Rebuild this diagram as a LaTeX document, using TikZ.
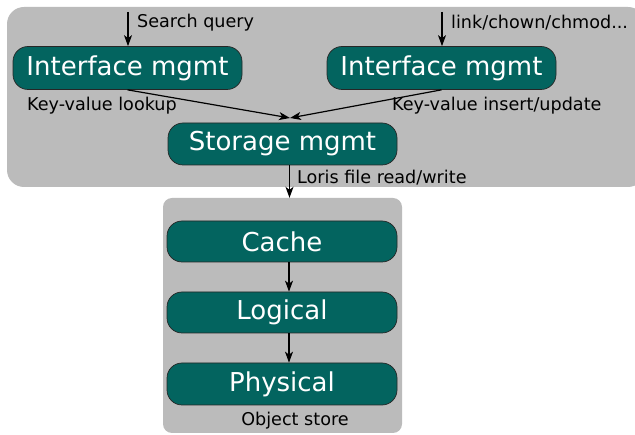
\documentclass[tikz,border=0pt]{standalone}
\usepackage{fontspec}
\setmainfont{DejaVu Sans}
\usetikzlibrary{arrows.meta}
\definecolor{regiongray}{HTML}{BBBBBB}
\definecolor{boxteal}{HTML}{03645F}
\tikzset{
  region/.style={fill=regiongray, draw=none},
  layerbox/.style={draw=black!85, line width=0.7pt, fill=boxteal, rounded corners=15pt,
    text=white, font=\fontsize{26}{30}\selectfont, inner sep=0pt},
  lbl/.style={font=\fontsize{17.6}{20}\selectfont, inner sep=0pt, text=black},
  arr/.style={-{Stealth[length=11pt,width=8pt,inset=3pt]}, line width=1.2pt},
}
\begin{document}
\begin{tikzpicture}[x=1pt,y=-1pt]
\useasboundingbox (0,0) rectangle (635,435);
\begin{scope}
\clip (0,0) rectangle (635,435);
\fill[region, rounded corners=17pt] (7,7) rectangle (645,187);
\node[region, rounded corners=9pt, minimum width=239pt, minimum height=235pt, inner sep=0pt] (objstore) at (282.5,315.5) {};
\end{scope}
\node[layerbox, minimum width=229pt, minimum height=43pt] (im1) at (127.5,68) {Interface mgmt};
\node[layerbox, minimum width=229pt, minimum height=43pt] (im2) at (441.5,68) {Interface mgmt};
\node[layerbox, minimum width=229pt, minimum height=42pt] (storage) at (282.5,144) {Storage mgmt};
\node[layerbox, minimum width=230pt, minimum height=41pt] (cache) at (282,241.5) {Cache};
\node[layerbox, minimum width=230pt, minimum height=41pt] (logical) at (282,312.5) {Logical};
\node[layerbox, minimum width=230pt, minimum height=42pt] (physical) at (282,384) {Physical};

\coordinate (in1) at (128,12);
\coordinate (in2) at (442,12);
\coordinate (merge) at (290,118);

\draw[arr] (in1) -- (in1 |- im1.north);
\draw[arr] (in2) -- (in2 |- im2.north);
\draw[arr] (im1.south) -- (merge);
\draw[arr] (im2.south) -- (merge);
\draw[arr] ([xshift=7pt]storage.south) -- ([xshift=7pt]objstore.north);
\draw[arr] ([xshift=7pt]cache.south) -- ([xshift=7pt]logical.north);
\draw[arr] ([xshift=7pt]logical.south) -- ([xshift=7pt]physical.north);

\node[lbl, anchor=west] (q1) at (137,23) {Search query};
\node[lbl, anchor=west] (q2) at (451,23) {link/chown/chmod...};
\node[lbl, anchor=west] (kv1) at (27,106) {Key-value lookup};
\node[lbl, anchor=west] (kv2) at (392,106) {Key-value insert/update};
\node[lbl, anchor=west] (loris) at (297,178) {Loris file read/write};
\node[lbl] (os) at (295,421) {Object store};
\end{tikzpicture}
\end{document}
